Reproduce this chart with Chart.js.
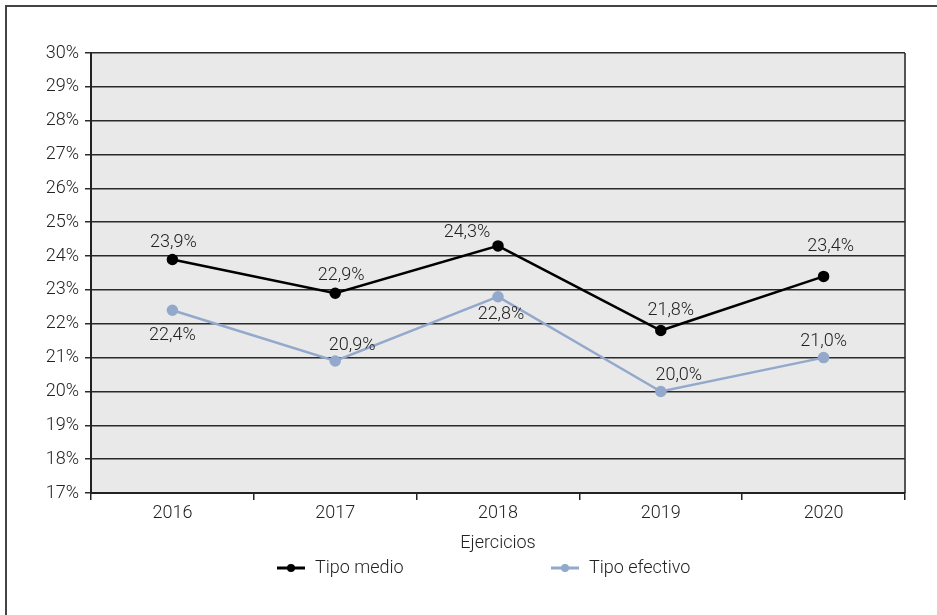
<!DOCTYPE html>
<html>
<head>
<meta charset="utf-8">
<script src="https://cdn.jsdelivr.net/npm/chart.js@4"></script>
<style>
  html, body { margin: 0; padding: 0; background: #fff; }
  #wrap { position: relative; width: 937px; height: 615px; overflow: hidden; }
  #frame { position: absolute; left: 5px; top: 5px; width: 1000px; height: 700px;
           border-left: 2px solid #444; border-top: 2px solid #444; }
  canvas { position: absolute; left: 0; top: 0; }
</style>
</head>
<body>
<div id="wrap">
  <div id="frame"></div>
  <canvas id="tipos" width="937" height="615"></canvas>
</div>
<script>
const years = ['2016', '2017', '2018', '2019', '2020'];
const tipoMedio = [23.9, 22.9, 24.3, 21.8, 23.4];
const tipoEfectivo = [22.4, 20.9, 22.8, 20.0, 21.0];
const yTicks = [17, 18, 19, 20, 21, 22, 23, 24, 25, 26, 27, 28, 29, 30];

// value label offsets from each point, in px [dx, dy]
const medioLabelOff = [[1, -17], [6, -18], [-31, -13], [10, -20], [7, -30]];
const efectivoLabelOff = [[0, 25], [17, -16], [3, 18], [18, -16], [0, -16]];

const FONT = 'Roboto, "Liberation Sans", Arial, sans-serif';
const pct = v => v.toFixed(1).replace('.', ',') + '%';

// grey plot background + right edge
const plotBg = {
  id: 'plotBg',
  beforeDraw(chart) {
    const a = chart.chartArea, ctx = chart.ctx;
    ctx.save();
    ctx.fillStyle = '#e9e9e9';
    ctx.fillRect(a.left, a.top, a.right - a.left, a.bottom - a.top);
    ctx.strokeStyle = '#555';
    ctx.lineWidth = 2;
    ctx.beginPath();
    ctx.moveTo(a.right, a.top);
    ctx.lineTo(a.right, a.bottom);
    ctx.stroke();
    ctx.restore();
  }
};

// value labels next to the points
const valueLabels = {
  id: 'valueLabels',
  afterDatasetsDraw(chart) {
    const ctx = chart.ctx;
    ctx.save();
    ctx.font = '300 18px ' + FONT;
    ctx.fillStyle = '#222';
    ctx.textAlign = 'center';
    ctx.textBaseline = 'middle';
    chart.data.datasets.forEach((ds, i) => {
      const meta = chart.getDatasetMeta(i);
      meta.data.forEach((pt, j) => {
        const [dx, dy] = ds.labelOff[j];
        ctx.fillText(pct(ds.data[j]), pt.x + dx, pt.y + dy);
      });
    });
    ctx.restore();
  }
};

// legend under the axis title: short line with a dot, then the name
const lineLegend = {
  id: 'lineLegend',
  afterDraw(chart) {
    const ctx = chart.ctx;
    const a = chart.chartArea;
    const y = 568;
    const starts = [a.left + 186, a.left + 460];
    ctx.save();
    ctx.font = '300 18px ' + FONT;
    ctx.textBaseline = 'middle';
    ctx.textAlign = 'left';
    chart.data.datasets.forEach((ds, i) => {
      const x = starts[i];
      ctx.strokeStyle = ds.borderColor;
      ctx.fillStyle = ds.borderColor;
      ctx.lineWidth = 3;
      ctx.beginPath();
      ctx.moveTo(x, y);
      ctx.lineTo(x + 28, y);
      ctx.stroke();
      ctx.beginPath();
      ctx.arc(x + 14, y, 4, 0, Math.PI * 2);
      ctx.fill();
      ctx.fillStyle = '#222';
      ctx.fillText(ds.label, x + 38, y);
    });
    ctx.restore();
  }
};

new Chart(document.getElementById('tipos'), {
  type: 'line',
  data: {
    labels: years,
    datasets: [
      {
        label: 'Tipo medio',
        data: tipoMedio,
        labelOff: medioLabelOff,
        borderColor: '#000',
        backgroundColor: '#000',
        borderWidth: 2.5,
        pointRadius: 4.5,
        pointHoverRadius: 4.5,
        tension: 0
      },
      {
        label: 'Tipo efectivo',
        data: tipoEfectivo,
        labelOff: efectivoLabelOff,
        borderColor: '#93a9cc',
        backgroundColor: '#93a9cc',
        borderWidth: 2.5,
        pointRadius: 4.5,
        pointHoverRadius: 4.5,
        tension: 0
      }
    ]
  },
  options: {
    responsive: false,
    animation: false,
    layout: { padding: { left: 0, top: 53, right: 32, bottom: 60 } },
    plugins: {
      legend: { display: false },
      tooltip: { enabled: false }
    },
    scales: {
      x: {
        offset: true,
        grid: {
          offset: true,
          drawOnChartArea: false,
          drawTicks: true,
          tickLength: 7,
          color: '#222',
          lineWidth: 1.5
        },
        border: { color: '#222', width: 2 },
        ticks: {
          color: '#222',
          padding: 3,
          font: { family: FONT, size: 18, weight: '300' }
        },
        title: {
          display: true,
          text: 'Ejercicios',
          color: '#222',
          padding: { top: 0, bottom: 1 },
          font: { family: FONT, size: 18, weight: '300' }
        },
        afterFit(scale) { scale.height = 62; }
      },
      y: {
        min: yTicks[0],
        max: yTicks[yTicks.length - 1],
        afterBuildTicks(scale) { scale.ticks = yTicks.map(v => ({ value: v })); },
        grid: {
          color: '#2a2a2a',
          lineWidth: 1.5,
          tickLength: 6
        },
        border: { color: '#222', width: 2 },
        ticks: {
          color: '#222',
          padding: 6,
          font: { family: FONT, size: 18, weight: '300' },
          callback: v => v + '%'
        },
        afterFit(scale) { scale.width = 91; }
      }
    }
  },
  plugins: [plotBg, valueLabels, lineLegend]
});
</script>
</body>
</html>
